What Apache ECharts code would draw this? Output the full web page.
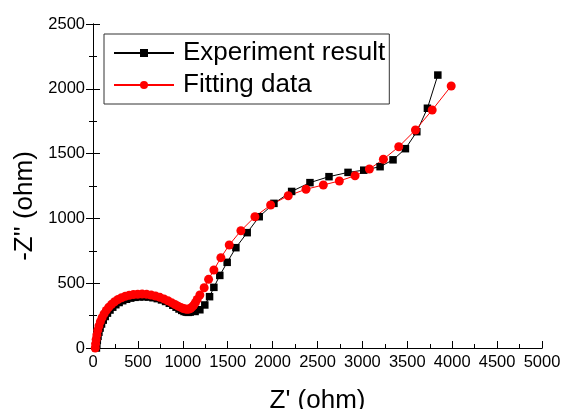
<!DOCTYPE html>
<html>
<head>
<meta charset="utf-8">
<script src="https://cdn.jsdelivr.net/npm/echarts@6/dist/echarts.min.js"></script>
<style>html,body{margin:0;padding:0;background:#fff;}#c{width:562px;height:409px;}</style>
</head>
<body>
<div id="c"></div>
<script>
var expX = [38,42,48,56,66,79,95,114,136,161,189,220,254,291,331,374,420,468,518,568,618,668,716,763,808,850,889,925,958,988,1014,1038,1060,1082,1137,1190,1245,1298,1346,1412,1494,1591,1717,1851,2015,2212,2416,2628,2840,3015,3197,3341,3479,3606,3724,3840];
var expY = [0,28,58,90,122,154,185,215,243,269,293,315,334,351,365,376,385,391,394,395,393,388,381,371,359,345,330,315,301,290,282,277,275,277,282,295,332,396,468,560,661,774,890,1013,1116,1208,1276,1322,1355,1372,1399,1452,1538,1669,1850,2106];
var fitX = [25,29,35,43,53,66,82,101,123,148,176,207,241,278,318,360,404,450,498,547,597,647,696,744,790,834,875,913,948,979,1006,1030,1051,1070,1088,1105,1122,1140,1160,1190,1238,1287,1346,1424,1517,1647,1803,1978,2174,2372,2565,2743,2918,3078,3234,3405,3591,3777,3989];
var fitY = [0,32,66,101,136,170,203,234,263,290,315,337,357,374,388,399,407,412,415,416,414,409,401,391,379,365,350,336,323,313,305,300,299,301,307,317,331,350,375,409,465,530,602,697,795,905,1013,1103,1175,1225,1258,1289,1329,1381,1456,1553,1682,1836,2022];
var seriesNames = ["Experiment result", "Fitting data"];
var xTitle = "Z' (ohm)";
var yTitle = "-Z'' (ohm)";

function pairs(xs, ys){ return xs.map(function(x,i){ return [x, ys[i]]; }); }
function plain(v){ return String(v); }

var FONT = "'Liberation Sans', Arial, sans-serif";
var chart = echarts.init(document.getElementById('c'), null, {renderer:'canvas'});
var axisLine = {show:true, lineStyle:{color:'#000', width:1}};
var xtick = {show:true, inside:false, length:-7, lineStyle:{color:'#000'}};
var xminor = {show:true, splitNumber:2, length:-4, lineStyle:{color:'#000'}};
var ytick = {show:true, inside:false, length:7, lineStyle:{color:'#000'}};
var yminor = {show:true, splitNumber:2, length:4, lineStyle:{color:'#000'}};
chart.setOption({
  animation:false,
  backgroundColor:'#fff',
  grid:{left:93, right:20, top:24, bottom:61, outerBoundsMode:'none', containLabel:false},
  legend:{
    orient:'vertical', left:104, top:34,
    data:seriesNames,
    itemWidth:60, itemHeight:10, itemGap:6,
    padding:[6,4,6,9],
    borderColor:'#333', borderWidth:1,
    textStyle:{fontFamily:FONT, fontSize:26, color:'#000', padding:[0,0,0,4]}
  },
  xAxis:[{
    type:'value', min:0, max:5000, interval:500, position:'bottom',
    name:xTitle, nameLocation:'middle', nameGap:40,
    nameTextStyle:{fontFamily:FONT, fontSize:26, color:'#000'},
    axisLine:axisLine, axisTick:xtick, minorTick:xminor,
    axisLabel:{fontFamily:FONT, fontSize:16.5, color:'#000', margin:6, formatter:plain},
    splitLine:{show:false}
  },{
    type:'value', min:0, max:5000, interval:500, position:'top',
    axisLine:axisLine, axisTick:{show:false}, axisLabel:{show:false}, splitLine:{show:false}
  }],
  yAxis:[{
    type:'value', min:0, max:2500, interval:500, position:'left',
    name:yTitle, nameLocation:'middle', nameGap:54,
    nameTextStyle:{fontFamily:FONT, fontSize:26, color:'#000', padding:[0,40,0,0]},
    axisLine:axisLine, axisTick:ytick, minorTick:yminor,
    axisLabel:{fontFamily:FONT, fontSize:16.5, color:'#000', margin:8, formatter:plain},
    splitLine:{show:false}
  },{
    type:'value', min:0, max:2500, interval:500, position:'right',
    axisLine:axisLine, axisTick:ytick, minorTick:yminor,
    axisLabel:{show:false}, splitLine:{show:false}
  }],
  series:[{
    name:seriesNames[0], type:'line', data:pairs(expX, expY),
    symbol:'rect', symbolSize:7.5, showAllSymbol:true,
    itemStyle:{color:'#000'}, lineStyle:{color:'#000', width:1}
  },{
    name:seriesNames[1], type:'line', data:pairs(fitX, fitY),
    symbol:'circle', symbolSize:9, showAllSymbol:true,
    itemStyle:{color:'#ff0000'}, lineStyle:{color:'#ff0000', width:1}
  }]
});
</script>
</body>
</html>
